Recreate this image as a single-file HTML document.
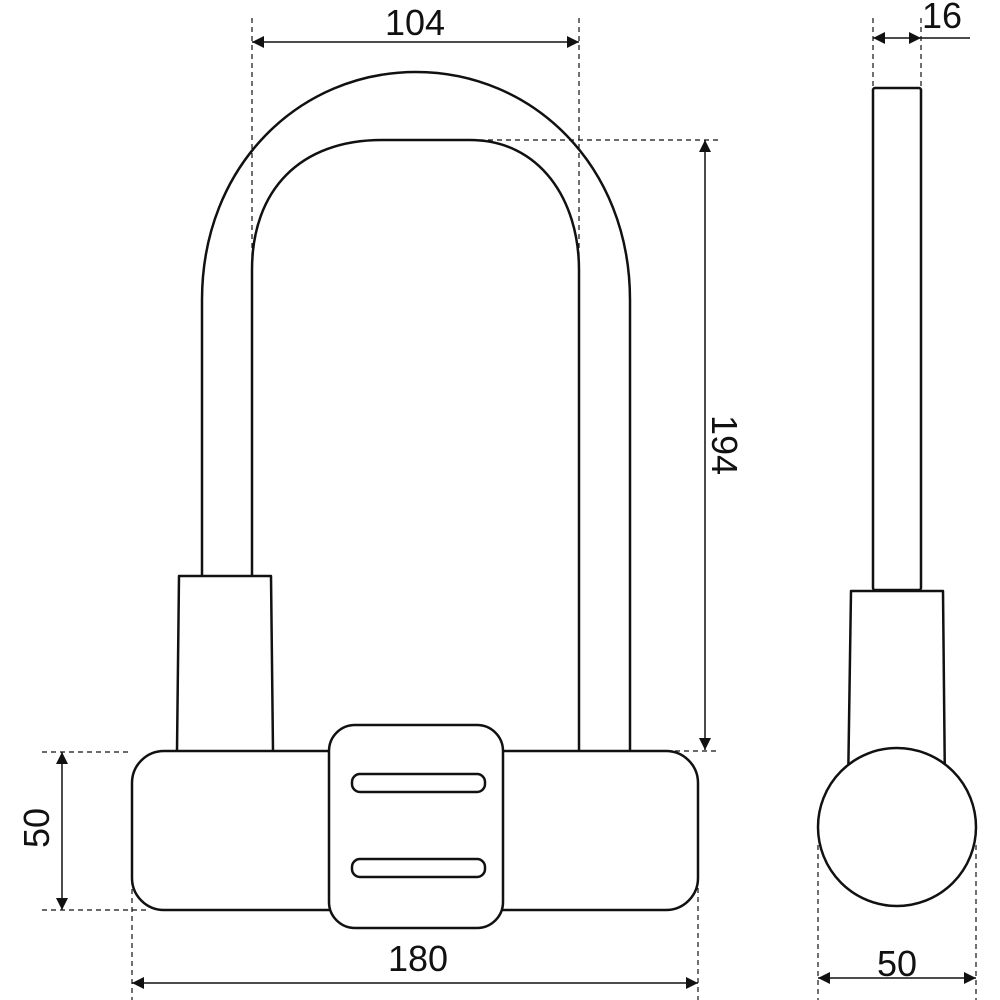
<!DOCTYPE html>
<html><head><style>html,body{margin:0;padding:0;background:#fff}svg{display:block}</style></head>
<body>
<svg width="1000" height="1000" viewBox="0 0 1000 1000" xmlns="http://www.w3.org/2000/svg">
<defs>
<marker id="a" viewBox="0 0 10 10" refX="10" refY="5" markerWidth="13" markerHeight="12" markerUnits="userSpaceOnUse" orient="auto-start-reverse"><path d="M0,0L10,5L0,10z" fill="#111"/></marker>
</defs>
<g fill="none" stroke="#111" stroke-width="2.5" stroke-linejoin="round">
<path d="M202,751 V300 C202,165 300,72 416,72 C532,72 630,165 630,300 V751"/>
<path d="M252,751 V270 C252,190 300,140 382,140 H470 C540,140 579,200 579,270 V751"/>
<path d="M177,751 L179,576 H271 L273,751" fill="#fff"/>
<rect x="132" y="751" width="566" height="159" rx="32" fill="#fff"/>
<rect x="329" y="725" width="174" height="203" rx="26" fill="#fff"/>
<rect x="352" y="774" width="133" height="18" rx="8"/>
<rect x="352" y="859" width="133" height="18" rx="8"/>
<rect x="873" y="88" width="48" height="502" rx="2" fill="#fff"/>
<path d="M848,790 L851,591 H943 L945,790" fill="#fff"/>
<circle cx="897" cy="827" r="79" fill="#fff"/>
</g>
<g stroke="#111" stroke-width="1.2" stroke-dasharray="5,4" fill="none">
<path d="M252,18V270M579,18V260"/>
<path d="M470,140H720M630,751H720"/>
<path d="M42,752H132M42,910H150"/>
<path d="M132,880V1000M698,870V1000"/>
<path d="M873,18V88M921,18V88"/>
<path d="M818,845V1000M976,845V1000"/>
</g>
<g stroke="#111" stroke-width="1.5" fill="none">
<line x1="252" y1="42" x2="579" y2="42" marker-start="url(#a)" marker-end="url(#a)"/>
<line x1="705" y1="140" x2="705" y2="750" marker-start="url(#a)" marker-end="url(#a)"/>
<line x1="62" y1="752" x2="62" y2="910" marker-start="url(#a)" marker-end="url(#a)"/>
<line x1="132" y1="983" x2="698" y2="983" marker-start="url(#a)" marker-end="url(#a)"/>
<line x1="873" y1="38" x2="921" y2="38" marker-start="url(#a)" marker-end="url(#a)"/>
<line x1="921" y1="38" x2="970" y2="38"/>
<line x1="818" y1="978" x2="976" y2="978" marker-start="url(#a)" marker-end="url(#a)"/>
</g>
<g font-family="Liberation Sans Narrow, Liberation Sans, sans-serif" font-size="36" fill="#111" text-anchor="middle">
<text x="415" y="35">104</text>
<text x="418" y="971">180</text>
<text x="942" y="28">16</text>
<text x="897" y="976">50</text>
<text transform="translate(712,445) rotate(90)">194</text>
<text transform="translate(49,828) rotate(-90)">50</text>
</g>
</svg>
</body></html>
